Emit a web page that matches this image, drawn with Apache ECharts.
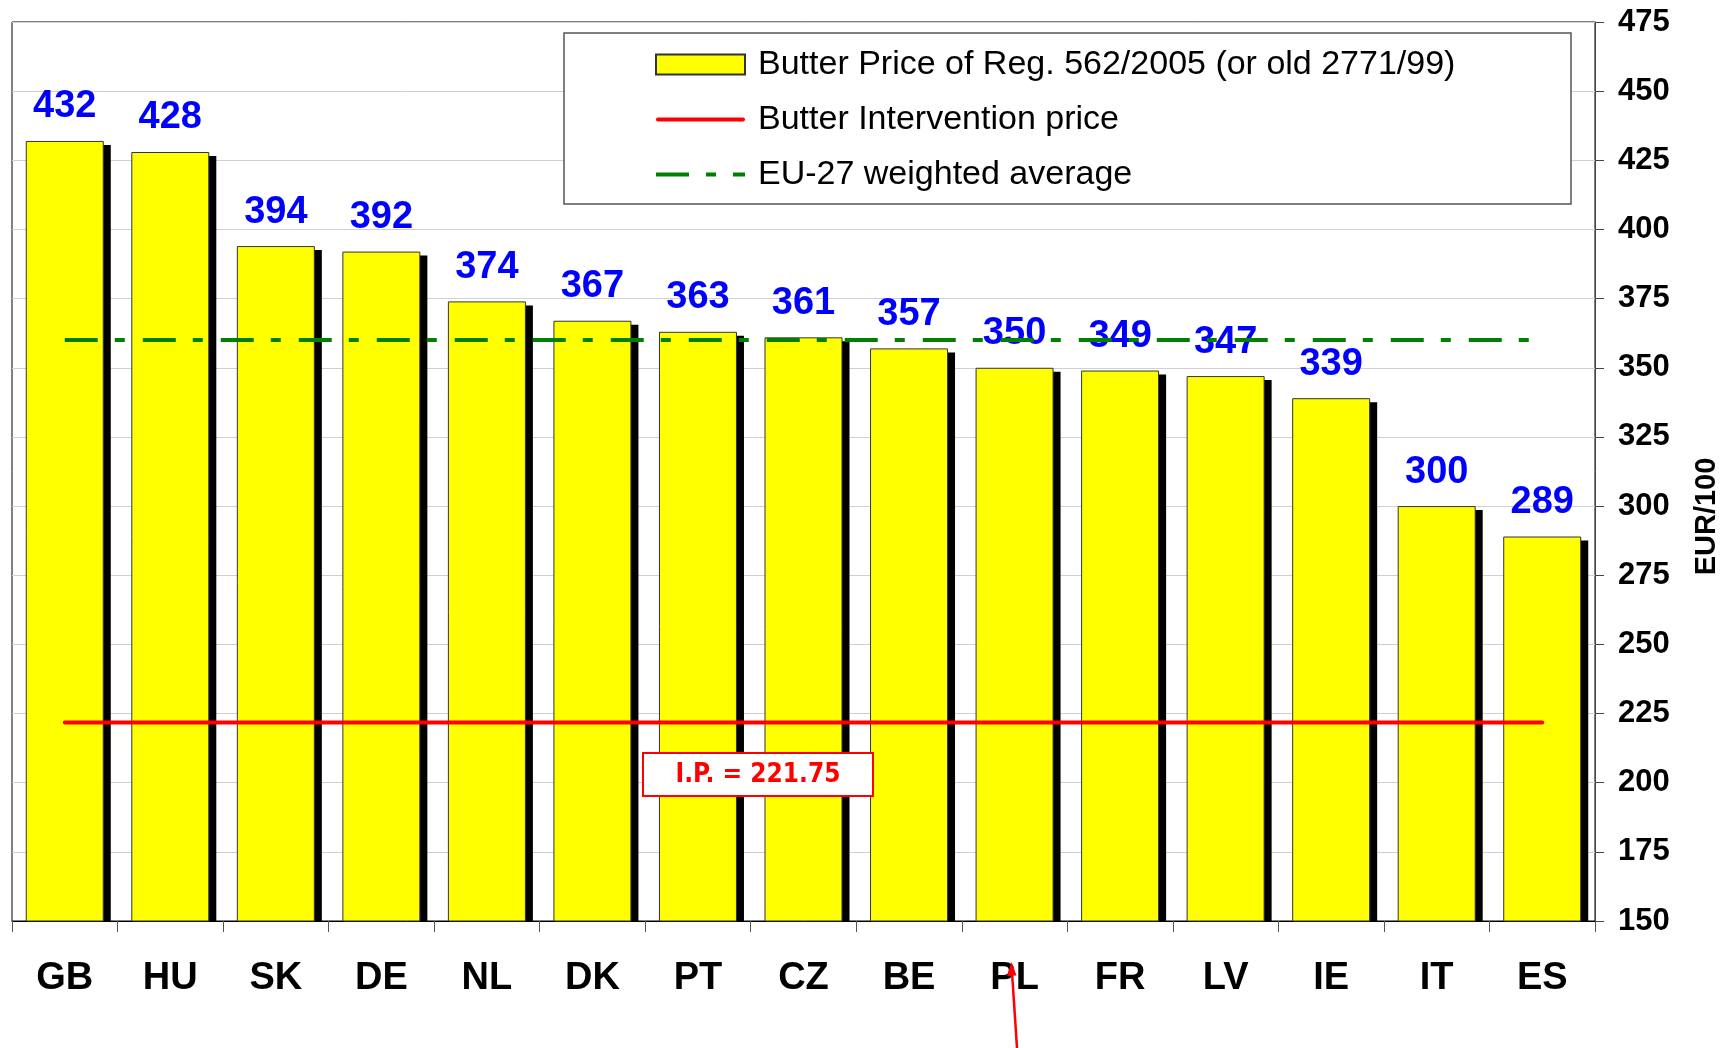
<!DOCTYPE html>
<html>
<head>
<meta charset="utf-8">
<title>Butter prices</title>
<script src="https://cdn.jsdelivr.net/npm/echarts@6/dist/echarts.min.js"></script>
<style>
    html, body { margin: 0; padding: 0; background: #fff; }
    #main { width: 1729px; height: 1048px; }
</style>
</head>
<body>
<div id="main"></div>
<script>
// data
const countries = ['GB', 'HU', 'SK', 'DE', 'NL', 'DK', 'PT', 'CZ', 'BE', 'PL', 'FR', 'LV', 'IE', 'IT', 'ES'];
const butterPrice = [432, 428, 394, 392, 374, 367, 363, 361, 357, 350, 349, 347, 339, 300, 289];
const interventionPrice = [221.75, 221.75, 221.75, 221.75, 221.75, 221.75, 221.75, 221.75, 221.75, 221.75, 221.75, 221.75, 221.75, 221.75, 221.75];
const euAverage = [360, 360, 360, 360, 360, 360, 360, 360, 360, 360, 360, 360, 360, 360, 360];
const yMin = 150, yMax = 475, yStep = 25;

const seriesNames = ['Butter Price of Reg. 562/2005 (or old 2771/99)', 'Butter Intervention price', 'EU-27 weighted average'];
const arial = 'Liberation Sans, Arial, sans-serif';
const barW = 78;

(function () {
    let myChart = echarts.init(document.getElementById('main'), null, { renderer: 'canvas' });
    myChart.setOption({
        backgroundColor: '#fff',
        animation: false,
        grid: {
            left: 12, right: 133, top: 22, bottom: 127,
            show: true,
            borderColor: '#000',
            borderWidth: 1,
            backgroundColor: '#fff'
        },
        legend: {
            orient: 'vertical',
            left: 655, top: 47,
            padding: 0,
            itemWidth: 89,
            itemHeight: 20,
            itemGap: 20,
            symbolKeepAspect: false,
            selectedMode: false,
            textStyle: { fontFamily: arial, fontSize: 34, color: '#000', lineHeight: 35, padding: [0, 0, 0, 8] },
            data: [
                { name: seriesNames[0], icon: 'rect' },
                // thin line icons, the extra moveTo points keep the full 89x20 box
                { name: seriesNames[1], icon: 'path://M0,0 M89,20 M2,8 L87,8 A2,2 0 0 1 87,12 L2,12 A2,2 0 0 1 2,8 Z' },
                { name: seriesNames[2], icon: 'path://M0,0 M89,20 M0,8 L33,8 L33,12 L0,12 Z M50,8 L60,8 L60,12 L50,12 Z M77,8 L89,8 L89,12 L77,12 Z' }
            ]
        },
        xAxis: {
            type: 'category',
            data: countries,
            axisLine: { lineStyle: { color: '#000', width: 1 } },
            axisTick: { show: true, length: 11, lineStyle: { color: '#555' } },
            axisLabel: { margin: 39, fontFamily: arial, fontSize: 38, fontWeight: 'bold', color: '#000' },
            splitLine: { show: false }
        },
        yAxis: {
            type: 'value',
            position: 'right',
            min: yMin, max: yMax, interval: yStep,
            axisLine: { show: true, lineStyle: { color: '#444', width: 1 } },
            axisTick: { show: true, length: 9, lineStyle: { color: '#444' } },
            axisLabel: { margin: 23, fontFamily: arial, fontSize: 31, fontWeight: 'bold', color: '#000' },
            splitLine: { show: true, lineStyle: { color: '#d0d0d0', width: 1 } },
            name: 'EUR/100',
            nameLocation: 'middle',
            nameRotate: 90,
            nameGap: 97,
            nameTextStyle: { fontFamily: arial, fontSize: 29, fontWeight: 'bold', color: '#000', padding: [0, 90, 0, 0] }
        },
        series: [
            {
                // drop shadow behind each bar
                name: 'shadow',
                type: 'custom',
                z: 1,
                silent: true,
                data: butterPrice.map((v, i) => [i, v]),
                renderItem: function (params, api) {
                    let top = api.coord([api.value(0), api.value(1)]);
                    let base = api.coord([api.value(0), yMin]);
                    return {
                        type: 'rect',
                        shape: { x: top[0] - barW / 2 + 7, y: top[1] + 4, width: barW, height: base[1] - top[1] - 4 },
                        style: { fill: '#000' }
                    };
                }
            },
            {
                name: seriesNames[0],
                type: 'bar',
                z: 2,
                barWidth: barW,
                data: butterPrice,
                itemStyle: { color: '#ffff00', borderColor: '#333', borderWidth: 1 },
                label: {
                    show: true,
                    position: 'top',
                    distance: 15,
                    color: '#0000ff',
                    fontFamily: arial,
                    fontSize: 38,
                    fontWeight: 'bold'
                }
            },
            {
                name: seriesNames[1],
                type: 'line',
                z: 3,
                symbol: 'none',
                data: interventionPrice,
                lineStyle: { color: '#ff0000', width: 4, cap: 'round' },
                itemStyle: { color: '#ff0000' }
            },
            {
                name: seriesNames[2],
                type: 'line',
                z: 3,
                symbol: 'none',
                data: euAverage,
                lineStyle: { color: '#008000', width: 4, type: [33, 17, 10, 18] },
                itemStyle: { color: '#008000' }
            }
        ],
        graphic: [
            {   // legend frame
                type: 'rect',
                z: 1,
                shape: { x: 564, y: 33, width: 1007, height: 171 },
                style: { fill: '#fff', stroke: '#555', lineWidth: 1.5 }
            },
            {   // I.P. note
                type: 'rect',
                z: 10,
                shape: { x: 643, y: 753, width: 230, height: 43 },
                style: { fill: '#fff', stroke: '#ff0000', lineWidth: 2 }
            },
            {
                type: 'text',
                z: 11,
                x: 758, y: 775,
                style: {
                    text: 'I.P. = 221.75',
                    align: 'center',
                    verticalAlign: 'middle',
                    fill: '#ff0000',
                    font: 'bold 26px "DejaVu Sans Condensed", "DejaVu Sans", sans-serif'
                }
            },
            {   // red pointer under PL
                type: 'line',
                z: 10,
                shape: { x1: 1017, y1: 1048, x2: 1012, y2: 972 },
                style: { stroke: '#ff0000', lineWidth: 2.5 }
            },
            {
                type: 'polygon',
                z: 10,
                shape: { points: [[1011.5, 962], [1007, 976], [1016.5, 975.5]] },
                style: { fill: '#ff0000' }
            }
        ]
    });
})();
</script>
</body>
</html>
